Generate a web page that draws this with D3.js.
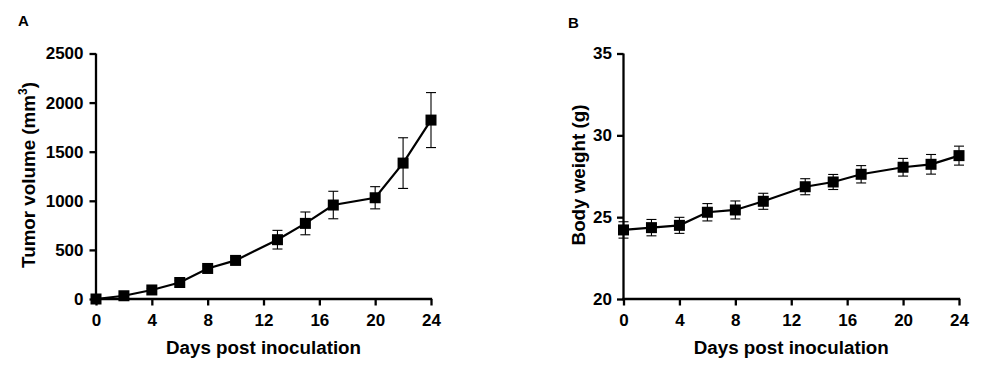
<!DOCTYPE html>
<html><head><meta charset="utf-8">
<script src="https://cdn.jsdelivr.net/npm/d3@7"></script>
<style>
body{margin:0;background:#fff;}
svg{display:block;}
text{font-family:"Liberation Sans",Arial,sans-serif;font-weight:bold;fill:#000;}
</style></head>
<body>
<svg id="c" width="981" height="367"></svg>
<script>
const days = [0,2,4,6,8,10,13,15,17,20,22,24];
const tumorMean = [0,33,92,168,311,393,604,770,957,1031,1384,1822];
const tumorErr  = [5,10,15,20,25,30,95,116,140,113,258,280];
const weightMean = [24.22,24.36,24.50,25.30,25.44,25.97,26.86,27.15,27.62,28.05,28.23,28.76];
const weightErr  = [0.50,0.50,0.49,0.53,0.55,0.49,0.49,0.46,0.53,0.54,0.60,0.58];
const xTicks = [0,4,8,12,16,20,24];
const tumorTicks = [0,500,1000,1500,2000,2500];
const weightTicks = [20,25,30,35];

const svg = d3.select("#c");

function panel(opt){
  const g = svg.append("g");
  const x = d3.scaleLinear().domain([0,24]).range([opt.x0, opt.x1]);
  const y = d3.scaleLinear().domain(opt.ydom).range([299, 53.5]);

  const xa = g.append("g").attr("transform",`translate(0,299)`)
    .call(d3.axisBottom(x).tickValues(xTicks).tickFormat(d3.format("d")).tickSize(6.5).tickPadding(8).tickSizeOuter(0));
  const ya = g.append("g").attr("transform",`translate(${opt.x0},0)`)
    .call(d3.axisLeft(y).tickValues(opt.ticks).tickFormat(d3.format("d")).tickSize(6.5).tickPadding(opt.ypad).tickSizeOuter(0));
  [xa,ya].forEach(a=>{
    a.select(".domain").attr("stroke","#000").attr("stroke-width",2.3);
    a.selectAll(".tick line").attr("stroke","#000").attr("stroke-width",2.3);
    a.selectAll(".tick text").attr("font-size",17).attr("font-family","'Liberation Sans',Arial,sans-serif").attr("font-weight","bold").attr("fill","#000");
  });
  xa.select(".domain").attr("d",`M${opt.x0-1.15},0H${opt.x1+1.15}`);
  ya.select(".domain").attr("d",`M0,${299+1.15}V53.5`);

  const d = days.map((v,i)=>({x:v,m:opt.mean[i],e:opt.err[i]}));
  const eb = g.append("g").attr("stroke","#000").attr("stroke-width",1.1);
  d.forEach(p=>{
    const cx = x(p.x), t = y(p.m+p.e);
    const lowOk = p.m-p.e >= opt.ydom[0];
    const b = y(lowOk ? p.m-p.e : opt.ydom[0]);
    eb.append("line").attr("x1",cx).attr("x2",cx).attr("y1",t).attr("y2",b);
    eb.append("line").attr("x1",cx-5).attr("x2",cx+5).attr("y1",t).attr("y2",t);
    if(lowOk) eb.append("line").attr("x1",cx-5).attr("x2",cx+5).attr("y1",b).attr("y2",b);
  });
  g.append("path").datum(d)
    .attr("fill","none").attr("stroke","#000").attr("stroke-width",2.2)
    .attr("d",d3.line().x(p=>x(p.x)).y(p=>y(p.m)));
  g.selectAll("rect.m").data(d).enter().append("rect")
    .attr("x",p=>x(p.x)-5.5).attr("y",p=>y(p.m)-5.5).attr("width",11).attr("height",11).attr("fill","#000");

  g.append("text").attr("x",(opt.x0+opt.x1)/2).attr("y",354).attr("text-anchor","middle").attr("font-size",18.8).text("Days post inoculation");
  const yt = g.append("text").attr("transform",`translate(${opt.ytx},175) rotate(-90)`).attr("text-anchor","middle").attr("font-size",18.8);
  opt.ytitle(yt);
  g.append("text").attr("x",opt.lx).attr("y",opt.ly).attr("font-size",15).text(opt.label);
}

panel({x0:96,x1:431,ydom:[0,2500],ticks:tumorTicks,mean:tumorMean,err:tumorErr,ypad:6,ytx:35,lx:18,ly:26,label:"A",
  ytitle:t=>{t.append("tspan").text("Tumor volume (mm");t.append("tspan").attr("font-size",12).attr("dy",-8).text("3");t.append("tspan").attr("dy",8).text(")");}});
panel({x0:623.5,x1:959,ydom:[20,35],ticks:weightTicks,mean:weightMean,err:weightErr,ypad:5,ytx:585,lx:568,ly:28,label:"B",
  ytitle:t=>{t.text("Body weight (g)");}});
</script>
</body></html>
